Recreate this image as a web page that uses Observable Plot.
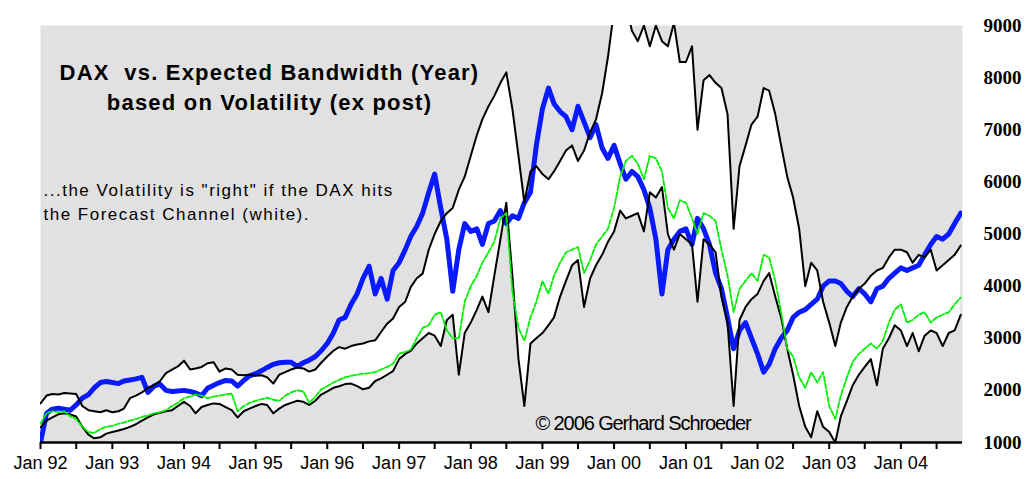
<!DOCTYPE html>
<html>
<head>
<meta charset="utf-8">
<script src="https://cdn.jsdelivr.net/npm/d3@7"></script>
<script src="https://cdn.jsdelivr.net/npm/@observablehq/plot@0.6"></script>
<style>
  html, body { margin: 0; padding: 0; background: #fff; }
</style>
</head>
<body>
<div id="chart"></div>
<script>
// Monthly readings, January 1992 onwards
const upperChannel = [
  1750,1900,1930,1920,1950,1940,1930,1700,1620,1600,1580,1620,
  1580,1600,1650,1850,1900,1960,2050,2100,2180,2330,2400,2460,
  2570,2400,2420,2450,2520,2540,2360,2420,2400,2300,2290,2300,
  2280,2290,2250,2130,2300,2350,2400,2440,2420,2360,2400,2530,
  2650,2760,2830,2800,2850,2880,2900,2940,2960,3120,3280,3380,
  3600,3700,3980,4150,4240,4700,5000,5250,5400,5500,5850,6100,
  6500,6900,7200,7450,7650,7900,8100,7400,6500,5600,6200,6300,
  6150,6050,6200,6400,6600,6700,6400,6600,6950,7200,7700,8400,
  9300,9600,9400,8900,8700,9000,8600,9000,8700,8600,9050,8300,
  8300,8600,7000,7950,8050,7900,7800,7300,5100,6300,6700,7100,
  7250,7800,7750,7300,6700,6100,5700,5100,4000,4450,4300,3700,
  3300,2850,3300,3600,3800,3950,4050,4200,4300,4350,4550,4700,
  4700,4650,4450,4600,4550,4700,4300,4400,4500,4600,4780
];
const lowerChannel = [
  1290,1420,1480,1540,1560,1540,1500,1300,1150,1080,1100,1170,
  1200,1230,1260,1300,1350,1420,1480,1540,1570,1600,1620,1700,
  1780,1700,1560,1680,1720,1750,1740,1680,1620,1480,1600,1650,
  1700,1740,1720,1560,1650,1720,1760,1800,1780,1720,1800,1920,
  1980,2050,2080,2120,2130,2080,2020,2050,2180,2230,2300,2370,
  2600,2700,2760,2900,3000,3100,3050,2850,3350,3450,2300,3100,
  3300,3550,3800,3500,4200,4900,5600,4200,2600,1700,2900,3000,
  3100,3250,3400,3800,4100,4400,4500,3600,4150,4400,4600,4850,
  5050,5450,5300,5350,5400,5050,5800,5700,5900,5000,4700,5000,
  4900,4800,3700,4900,4800,4650,3800,3300,1700,3350,3600,3750,
  3850,4100,4250,3800,3400,2800,2300,1700,1300,1100,1600,1300,
  1200,1000,1500,1800,2100,2300,2450,2600,2100,2800,3000,3250,
  3150,2850,3100,2750,3050,3150,3100,2850,3100,3150,3450
];
const greenSeries = [
  1360,1560,1600,1580,1600,1500,1450,1300,1200,1180,1260,1300,
  1320,1360,1380,1420,1450,1490,1520,1560,1580,1620,1700,1760,
  1850,1880,1920,1900,1850,1880,1900,1920,1940,1600,1700,1760,
  1800,1830,1860,1820,1800,1900,1960,2000,1980,1760,1880,2020,
  2080,2150,2200,2250,2280,2300,2320,2330,2350,2400,2450,2510,
  2700,2740,2780,3000,3200,3250,3450,3500,3150,3000,3000,3700,
  4000,4200,4450,4650,4850,5300,5400,3900,3200,2950,3400,3700,
  4100,3850,4200,4450,4650,4700,4750,4250,4500,4800,4950,5100,
  5500,6100,6400,6500,6350,6050,6500,6450,6200,5500,5300,5650,
  5600,5300,5000,5400,5350,5250,4700,4200,3500,3950,4100,4250,
  4100,4600,4550,4100,3500,2800,2650,2250,2050,2350,2150,2350,
  1700,1450,1900,2250,2550,2700,2800,2900,2800,2950,3300,3550,
  3650,3300,3350,3450,3500,3300,3400,3450,3500,3650,3780
];
const blueSeries = [
  1000,1560,1640,1660,1640,1620,1720,1850,1920,2050,2150,2170,
  2150,2130,2180,2200,2220,2250,1960,2080,2120,2000,1980,1990,
  2000,1980,1950,1900,2040,2100,2150,2190,2180,2080,2190,2280,
  2320,2380,2440,2500,2530,2540,2540,2460,2530,2580,2650,2760,
  2900,3100,3350,3400,3650,3850,4150,4380,3850,4150,3750,4300,
  4450,4700,4950,5150,5400,5800,6150,5500,4900,3900,4700,5200,
  5050,5100,4800,5200,5250,5450,5200,5350,5300,5600,5800,6700,
  7400,7800,7500,7350,7250,7000,7450,7150,6850,7100,6650,6450,
  6700,6350,6050,6200,6100,5850,5500,4900,3850,4700,4900,5050,
  5100,4800,5300,5100,4800,4250,3950,3400,2800,3150,3300,3000,
  2700,2350,2500,2800,3000,3150,3400,3500,3550,3650,3750,4000,
  4100,4100,4050,3900,3800,3950,3850,3700,3950,4000,4150,4250,
  4350,4300,4350,4400,4600,4800,4950,4900,5000,5200,5400
];
const yTickValues = [1000,2000,3000,4000,5000,6000,7000,8000,9000];
const xTickLabels = ["Jan 92","Jan 93","Jan 94","Jan 95","Jan 96","Jan 97","Jan 98","Jan 99","Jan 00","Jan 01","Jan 02","Jan 03","Jan 04"];
const titleLines = ["DAX\u00a0 vs. Expected Bandwidth (Year)", "based on Volatility (ex post)"];
const noteLines = ["...the Volatility is \"right\" if the DAX hits", "the Forecast Channel (white)."];
const creditText = "\u00a9 2006 Gerhard Schroeder";

const rows = upperChannel.map((u, i) => ({
  date: new Date(Date.UTC(1992, i, 1)),
  upper: u,
  lower: lowerChannel[i],
  green: greenSeries[i],
  dax: blueSeries[i]
}));

const chart = Plot.plot({
  width: 1027,
  height: 479,
  marginLeft: 40,
  marginRight: 65,
  marginTop: 25,
  marginBottom: 37,
  style: { fontFamily: "'Liberation Sans', Arial, sans-serif", background: "#fff", color: "#000", overflow: "visible" },
  x: { type: "utc", domain: [new Date(Date.UTC(1992, 0, 1)), new Date(Date.UTC(2004, 10, 10))], label: null },
  y: { domain: [1000, 9000], label: null },
  marks: [
    Plot.frame({ fill: "#e1e1e1", stroke: "none" }),
    Plot.areaY(rows, { x: "date", y1: "lower", y2: "upper", fill: "#ffffff", clip: true }),
    Plot.line(rows, { x: "date", y: "dax", stroke: "#0a1aff", strokeWidth: 5, clip: true }),
    Plot.line(rows, { x: "date", y: "upper", stroke: "#000", strokeWidth: 2, clip: true }),
    Plot.line(rows, { x: "date", y: "lower", stroke: "#000", strokeWidth: 2, clip: true }),
    Plot.line(rows, { x: "date", y: "green", stroke: "#00f000", strokeWidth: 1.8, strokeDasharray: "5,2", clip: true }),
    Plot.ruleY([1000], { stroke: "#000", strokeWidth: 2.5 }),
    Plot.axisX({
      ticks: d3.utcMonth.every(6),
      tickSize: 7,
      tickPadding: 7,
      strokeWidth: 2,
      fontSize: 18,
      tickFormat: d => d.getUTCMonth() === 0 ? (xTickLabels[d.getUTCFullYear() - 1992] ?? "") : ""
    }),
    Plot.axisY({
      anchor: "right",
      ticks: yTickValues,
      tickSize: 0,
      tickPadding: 21,
      fontSize: 19,
      fontWeight: "bold",
      fontFamily: "'Liberation Serif', 'Times New Roman', serif",
      tickFormat: d => String(d)
    }),
    Plot.text([titleLines.join("\n")], {
      text: d => d, frameAnchor: "top-left", dx: 229, dy: 60,
      textAnchor: "middle", lineAnchor: "middle", lineHeight: 1.35,
      fontSize: 22, fontWeight: "bold", fill: "#000"
    }),
    Plot.text([noteLines.join("\n")], {
      text: d => d, frameAnchor: "top-left", dx: 3, dy: 175,
      textAnchor: "start", lineAnchor: "middle", lineHeight: 1.42,
      fontSize: 17, fill: "#000"
    }),
    Plot.text([creditText], {
      text: d => d, frameAnchor: "top-left", dx: 495, dy: 398,
      textAnchor: "start", lineAnchor: "middle",
      fontSize: 20, fill: "#000"
    })
  ]
});

chart.querySelectorAll("text").forEach(t => {
  const s = t.textContent;
  if (s.includes("Gerhard")) t.style.letterSpacing = "-1.1px";
  else if (s.includes("Bandwidth")) t.style.letterSpacing = "1.2px";
  else if (s.includes("Volatility is")) t.style.letterSpacing = "1.5px";
});
document.getElementById("chart").appendChild(chart);
</script>
</body>
</html>
